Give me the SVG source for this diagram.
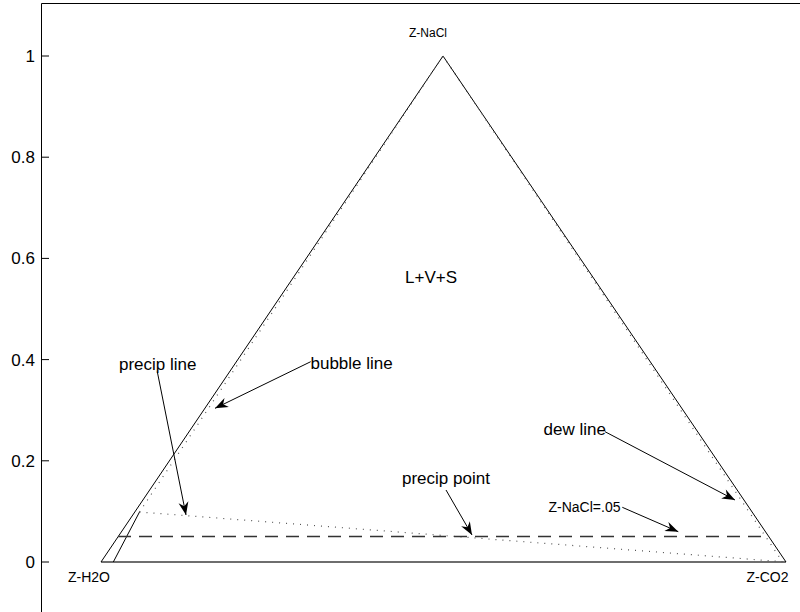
<svg xmlns="http://www.w3.org/2000/svg" width="800" height="612" viewBox="0 0 800 612">
  <defs>
    <marker id="ah" viewBox="-14 -6 15 12" refX="0" refY="0" markerWidth="15" markerHeight="12" markerUnits="userSpaceOnUse" orient="auto">
      <path d="M0,0 L-13,-5 L-9,0 L-13,5 Z" fill="#000"/>
    </marker>
  </defs>
  <style>
    .big { font-family: "Liberation Sans", Arial, sans-serif; font-size: 17px; fill: #000; }
    .small { font-family: "Liberation Sans", Arial, sans-serif; font-size: 14px; fill: #000; }
    .tick { font-family: "Liberation Sans", Arial, sans-serif; font-size: 17px; fill: #000; text-anchor: end; }
    .axis { stroke: #000; stroke-width: 1; fill: none; }
    .edge { stroke: #000; stroke-width: 1; fill: none; }
    .base { stroke: #6e6e6e; stroke-width: 2; fill: none; }
    .dot { stroke: #555; stroke-width: 1.2; stroke-dasharray: 1 6; fill: none; }
    .dash { stroke: #333; stroke-width: 1.3; stroke-dasharray: 13 8; fill: none; }
    .arrow { stroke: #000; stroke-width: 1; fill: none; marker-end: url(#ah); }
  </style>
  <rect x="0" y="0" width="800" height="612" fill="#fff"/>

  <g id="axes">
    <line class="axis" x1="41.5" y1="3.5" x2="800" y2="3.5"/>
    <line class="axis" x1="41.5" y1="3.5" x2="41.5" y2="612"/>
    <line class="axis" x1="41.5" y1="56" x2="49" y2="56"/>
    <line class="axis" x1="41.5" y1="157.2" x2="49" y2="157.2"/>
    <line class="axis" x1="41.5" y1="258.4" x2="49" y2="258.4"/>
    <line class="axis" x1="41.5" y1="359.6" x2="49" y2="359.6"/>
    <line class="axis" x1="41.5" y1="460.8" x2="49" y2="460.8"/>
    <line class="axis" x1="41.5" y1="562" x2="49" y2="562"/>
    <text class="tick" x="35" y="62">1</text>
    <text class="tick" x="35" y="163">0.8</text>
    <text class="tick" x="35" y="264">0.6</text>
    <text class="tick" x="35" y="365.5">0.4</text>
    <text class="tick" x="35" y="466.5">0.2</text>
    <text class="tick" x="35" y="568">0</text>
  </g>

  <g id="triangle">
    <line class="base" x1="101" y1="562" x2="786" y2="562"/>
    <polyline class="edge" points="101,562 443,56 786,562"/>
    <line class="edge" x1="113.3" y1="562" x2="139.5" y2="512"/>
  </g>

  <g id="curves">
    <line class="dot" x1="139.5" y1="512" x2="786" y2="562"/>
    <line class="dot" x1="139.5" y1="512" x2="443" y2="56"/>
    <line class="dot" x1="443" y1="56" x2="782" y2="561"/>
    <line class="dash" x1="118" y1="536.5" x2="769" y2="536.5"/>
  </g>

  <g id="labels">
    <text class="small" x="409" y="37" style="font-size:12px">Z-NaCl</text>
    <text class="small" x="68" y="582">Z-H2O</text>
    <text class="small" x="746.5" y="582">Z-CO2</text>
    <text class="big" x="405" y="282.5">L+V+S</text>
    <text class="big" x="119" y="369.5">precip line</text>
    <text class="big" x="310.5" y="369">bubble line</text>
    <text class="big" x="543.5" y="435">dew line</text>
    <text class="big" x="402" y="484">precip point</text>
    <text class="small" x="548.5" y="511.5">Z-NaCl=.05</text>
  </g>

  <g id="connectors">
    <line class="arrow" x1="157.3" y1="371.7" x2="186" y2="515"/>
    <line class="arrow" x1="310.7" y1="361.7" x2="215" y2="408.3"/>
    <line class="arrow" x1="605" y1="431.7" x2="735" y2="500"/>
    <line class="arrow" x1="446" y1="490" x2="472" y2="535"/>
    <line class="arrow" x1="622.3" y1="507.3" x2="678.3" y2="531.7"/>
  </g>
</svg>
